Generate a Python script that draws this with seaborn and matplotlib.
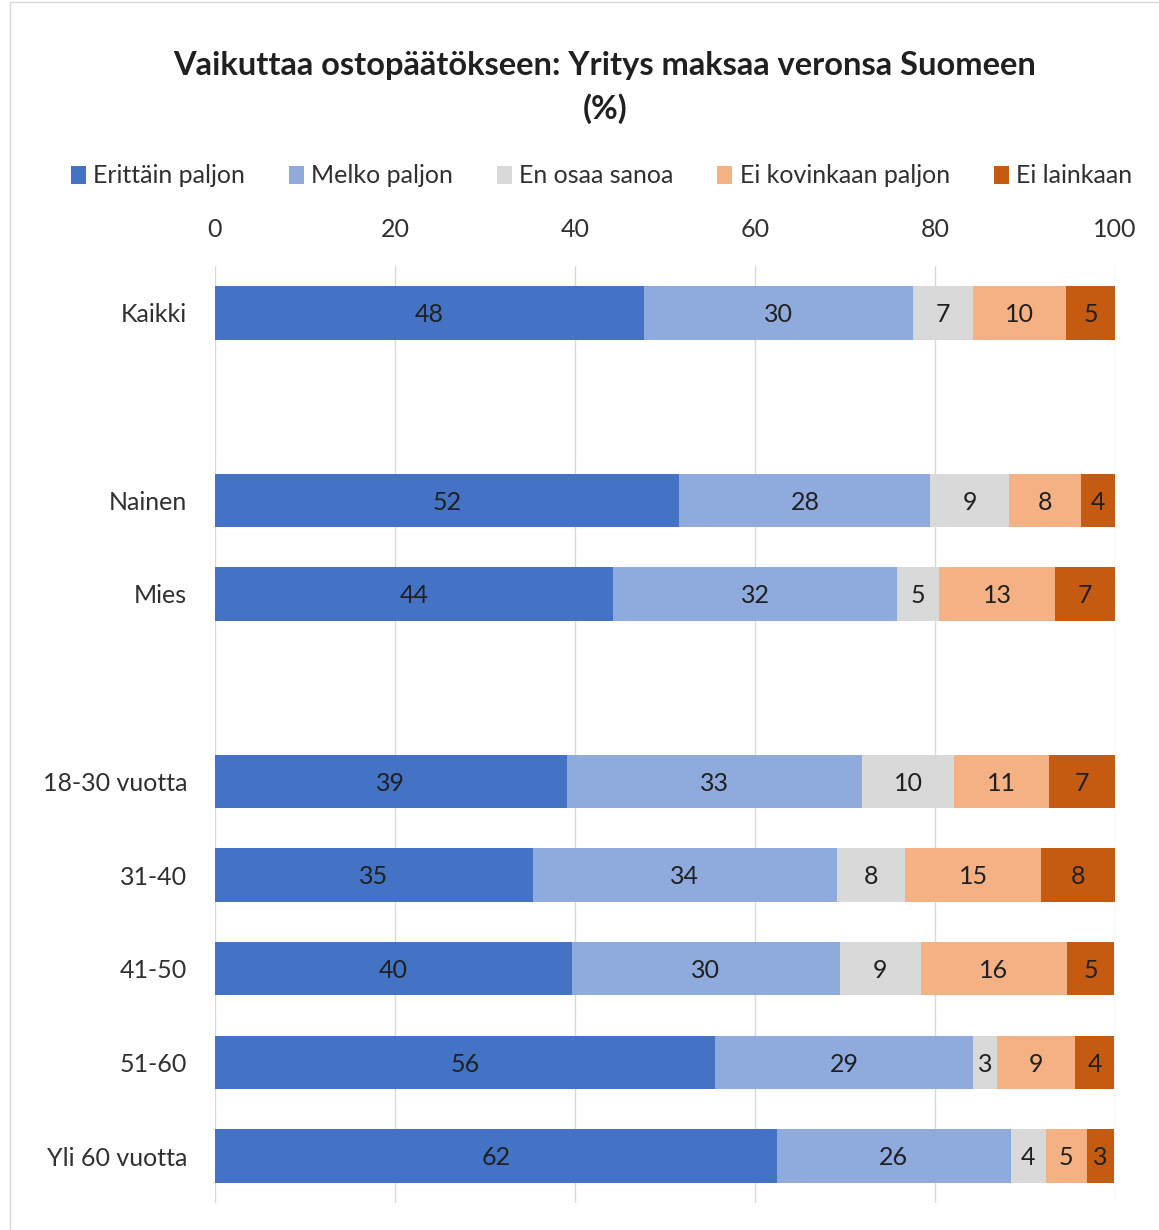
import numpy as np
import pandas as pd
import seaborn as sns
import matplotlib.pyplot as plt
from matplotlib.patches import Patch, Rectangle

groups = ["Kaikki", "gap1", "Nainen", "Mies", "gap2",
          "18-30 vuotta", "31-40", "41-50", "51-60", "Yli 60 vuotta"]
data_groups = ["Kaikki", "Nainen", "Mies", "18-30 vuotta", "31-40",
               "41-50", "51-60", "Yli 60 vuotta"]
series = ["Erittäin paljon", "Melko paljon", "En osaa sanoa",
          "Ei kovinkaan paljon", "Ei lainkaan"]
erittain = [47.7, 51.6, 44.2, 39.1, 35.3, 39.7, 55.6, 62.4]
melko = [29.9, 27.9, 31.6, 32.8, 33.8, 29.7, 28.6, 26.0]
en_osaa = [6.6, 8.7, 4.7, 10.2, 7.6, 9.0, 2.7, 3.9]
ei_kovin = [10.4, 8.0, 12.8, 10.6, 15.1, 16.3, 8.7, 4.6]
ei_lainkaan = [5.4, 3.9, 6.8, 7.3, 8.2, 5.2, 4.3, 3.0]
labels = {
    "Erittäin paljon": [48, 52, 44, 39, 35, 40, 56, 62],
    "Melko paljon": [30, 28, 32, 33, 34, 30, 29, 26],
    "En osaa sanoa": [7, 9, 5, 10, 8, 9, 3, 4],
    "Ei kovinkaan paljon": [10, 8, 13, 11, 15, 16, 9, 5],
    "Ei lainkaan": [5, 4, 7, 7, 8, 5, 4, 3],
}
colors = ["#4472C4", "#8FAADC", "#D9D9D9", "#F4B183", "#C55A11"]

df = pd.DataFrame({"group": data_groups,
                   series[0]: erittain, series[1]: melko, series[2]: en_osaa,
                   series[3]: ei_kovin, series[4]: ei_lainkaan})
cum = df[series].cumsum(axis=1)

sns.set_theme(style="white")
plt.rcParams["font.family"] = ["Lato", "DejaVu Sans"]

fig = plt.figure(figsize=(11.59, 12.30), dpi=100)
ax = fig.add_axes([0.1855, 0.022, 0.962 - 0.1855, 0.7837 - 0.022])

# stacked bars: draw cumulative totals from the right-most series backwards
for i in range(len(series) - 1, -1, -1):
    plot_df = pd.DataFrame({"group": data_groups, "value": cum[series[i]]})
    sns.barplot(data=plot_df, y="group", x="value", order=groups,
                color=colors[i], saturation=1, width=0.57, orient="h",
                edgecolor="none", linewidth=0, ax=ax, zorder=2)

# value labels
pos = {g: groups.index(g) for g in data_groups}
for i, s in enumerate(series):
    left = cum[s] - df[s]
    for j, g in enumerate(data_groups):
        ax.text(left[j] + df[s][j] / 2, pos[g] + 0.02, str(labels[s][j]),
                ha="center", va="center", fontsize=18, color="#202020",
                zorder=3)

ax.set_xlim(0, 100)
ax.set_ylim(len(groups) - 0.5, -0.5)
ax.set_xticks([0, 20, 40, 60, 80, 100])
ax.xaxis.tick_top()
ax.tick_params(axis="x", length=0, pad=18, labelsize=18, labelcolor="#303030")
ax.tick_params(axis="y", length=0, pad=20, labelsize=18, labelcolor="#303030")
ax.set_yticks(range(len(groups)))
ax.set_yticklabels([g if not g.startswith("gap") else "" for g in groups])
ax.set_xlabel("")
ax.set_ylabel("")
ax.grid(axis="x", color="#D9D9D9", linewidth=1, zorder=0)
ax.set_axisbelow(True)
for sp in ax.spines.values():
    sp.set_visible(False)

fig.text(0.522, 0.947, "Vaikuttaa ostopäätökseen: Yritys maksaa veronsa Suomeen",
         ha="center", va="center", fontsize=23.5, fontweight="bold", color="#202020")
fig.text(0.522, 0.912, "(%)", ha="center", va="center", fontsize=23.5,
         fontweight="bold", color="#202020")

handles = [Patch(facecolor=c, edgecolor="none") for c in colors]
fig.legend(handles, series, loc="center", bbox_to_anchor=(0.519, 0.857), ncol=5,
           frameon=False, fontsize=18, handlelength=0.6, handleheight=0.75,
           handletextpad=0.3, columnspacing=1.75, labelcolor="#303030")

fig.patches.append(Rectangle((0.009, -0.01), 1.2, 1.008, transform=fig.transFigure,
                             fill=False, edgecolor="#D9D9D9", linewidth=1))

fig.savefig("out.png", dpi=100)
